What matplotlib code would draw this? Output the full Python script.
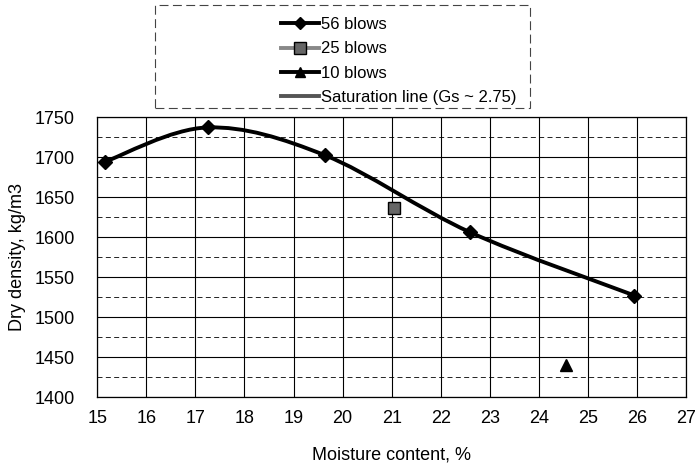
import matplotlib
matplotlib.use("Agg")
import matplotlib.pyplot as plt
from matplotlib.path import Path
from matplotlib.patches import PathPatch, Rectangle
from matplotlib.lines import Line2D
import numpy as np

# ===========================
# DATA
# ===========================

moist_56 = [15.15, 17.25, 19.65, 22.6, 25.95]
dens_56 = [1694, 1737, 1702, 1606, 1527]

moist_25 = [21.05]
dens_25 = [1636]

moist_10 = [24.55]
dens_10 = [1440]

x_ticks = list(range(15, 28))
y_ticks = list(range(1400, 1751, 50))

plt.rcParams["font.family"] = ["Liberation Sans", "DejaVu Sans"]

fig = plt.figure(figsize=(6.95, 4.70), dpi=100)
ax = fig.add_axes([0.14, 0.155, 0.847, 0.596])

# smooth curve (Excel style) through the 56 blows points
pts = np.column_stack([moist_56, dens_56])
verts = [tuple(pts[0])]
codes = [Path.MOVETO]
for i in range(len(pts) - 1):
    p0 = pts[i - 1] if i > 0 else pts[i]
    p1 = pts[i]
    p2 = pts[i + 1]
    p3 = pts[i + 2] if i + 2 < len(pts) else pts[i + 1]
    c1 = p1 + (p2 - p0) / 6
    c2 = p2 - (p3 - p1) / 6
    verts += [tuple(c1), tuple(c2), tuple(p2)]
    codes += [Path.CURVE4] * 3
ax.add_patch(PathPatch(Path(verts, codes), fill=False, lw=2.8, color="black", zorder=3))

ax.plot(moist_56, dens_56, ls="none", marker="D", ms=7, color="black", zorder=4)
ax.plot(moist_25, dens_25, ls="none", marker="s", ms=9, mfc="#666666", mec="black", zorder=4)
ax.plot(moist_10, dens_10, ls="none", marker="^", ms=8, color="black", zorder=4)

ax.set_xlim(15, 27)
ax.set_ylim(1400, 1750)
ax.set_xticks(x_ticks)
ax.set_yticks(y_ticks)
ax.set_yticks(range(1425, 1750, 50), minor=True)
ax.tick_params(axis="both", which="major", labelsize=13, length=0)
ax.tick_params(axis="x", which="major", pad=9)
ax.tick_params(axis="y", which="major", pad=16)
ax.tick_params(axis="y", which="minor", length=0)

ax.grid(True, which="major", color="black", lw=0.8)
ax.grid(True, which="minor", axis="y", color="black", lw=0.6, ls=(0, (6, 4)))
for s in ax.spines.values():
    s.set_color("black")
    s.set_linewidth(0.9)

ax.set_xlabel("Moisture content, %", fontsize=13, labelpad=14)
ax.set_ylabel("Dry density, kg/m3", fontsize=13, labelpad=6)

# ===========================
# LEGEND
# ===========================

fig.patches.append(Rectangle((0.223, 0.77), 0.54, 0.22, transform=fig.transFigure,
                             fill=False, ec="#444444", lw=0.8, ls=(0, (8, 4))))

handles = [
    Line2D([], [], color="black", lw=2.8, marker="D", ms=6),
    Line2D([], [], color="#888888", lw=2.8, marker="s", ms=8, mfc="#666666", mec="black"),
    Line2D([], [], color="black", lw=2.8, marker="^", ms=7),
    Line2D([], [], color="#555555", lw=2.8),
]
labels = ["56 blows", "25 blows", "10 blows", "Saturation line (Gs ~ 2.75)"]
leg = fig.legend(handles, labels, loc="upper left", bbox_to_anchor=(0.385, 0.992),
                 fontsize=12, frameon=False,
                 handlelength=2.3, handletextpad=0.1, labelspacing=0.56,
                 borderpad=0.3)

fig.savefig("out.png", dpi=100)
